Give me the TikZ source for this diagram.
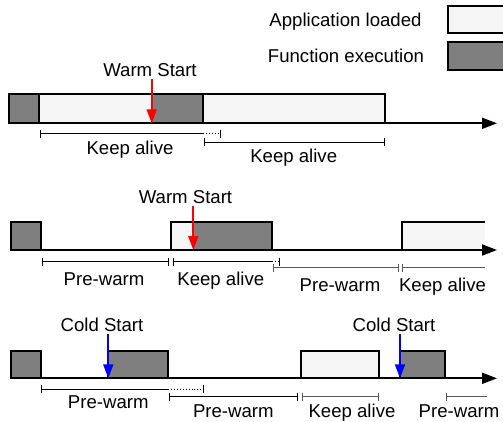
\documentclass[tikz,border=0pt]{standalone}
\usepackage{fontspec}
\setmainfont{Liberation Sans}
\usetikzlibrary{arrows.meta}
\definecolor{lightfill}{HTML}{F5F5F5}
\definecolor{darkfill}{HTML}{7F7F7F}
\definecolor{spangray}{HTML}{5A5A5A}
\begin{document}
\begin{tikzpicture}[x=1pt,y=-1pt,
  font=\fontsize{18.6}{21}\selectfont,
  lbl/.style={anchor=base, inner sep=0pt},
  boxline/.style={line width=1.8pt, draw=black},
  lightbox/.style={fill=lightfill},
  darkbox/.style={fill=darkfill},
  axis/.style={line width=1.8pt, -{Triangle[length=15pt,width=11pt]}},
  warmhit/.style={line width=1.8pt, draw=red, -{Triangle[length=14pt,width=10pt]}},
  coldhit/.style={line width=1.8pt, draw=blue, -{Triangle[length=14pt,width=10pt]}},
  spanboth/.style={line width=0.9pt, {Bar[width=8pt]}-{Bar[width=8pt]}},
  spanleft/.style={line width=0.9pt, {Bar[width=8pt]}-},
  spanright/.style={line width=0.9pt, -{Bar[width=8pt]}},
  spanext/.style={line width=0.9pt, dotted, -{Bar[width=8pt]}},
]
\useasboundingbox (0,0) rectangle (503,421);
\begin{scope}
\clip (0,0) rectangle (503,421);
% ---------- legend ----------
\node[lbl] (lgA) at (345.5,26) {Application loaded};
\node[lbl] (lgF) at (346,62.7) {Function execution};
\draw[boxline,lightbox] (448,5.7) rectangle (515,33.3);
\draw[boxline,darkbox] (448,41.7) rectangle (515,70);

% ---------- row 1 ----------
\fill[darkbox] (9.3,94.3) rectangle (39.3,123.3);
\draw[boxline] (9.3,94.3) rectangle (39.3,123.3);
\fill[lightbox] (39.3,94.3) rectangle (203.3,123.3);
\fill[darkbox] (151.7,94.3) rectangle (203.3,123.3);
\draw[boxline] (39.3,94.3) rectangle (203.3,123.3);
\draw[boxline,lightbox] (203.3,94.3) rectangle (385,123.3);
\coordinate (ax1s) at (9.3,123.3);
\coordinate (ax1e) at (497,123.3);
\draw[axis] (ax1s) -- (ax1e);
\node[lbl] (ws1) at (150,76) {Warm Start};
\coordinate (ws1a) at (151.7,78.5);
\coordinate (ws1b) at (151.7,123.3);
\draw[warmhit] (ws1a) -- (ws1b);
\draw[spanleft] (40,133.7) -- (203,133.7);
\draw[spanext] (203,133.7) -- (220.5,133.7);
\draw[spanboth] (204,142) -- (385,142);
\node[lbl] (ka11) at (130,154) {Keep alive};
\node[lbl] (ka12) at (293.7,162.7) {Keep alive};

% ---------- row 2 ----------
\fill[darkbox] (10.7,221.7) rectangle (40.7,250);
\draw[boxline] (10.7,221.7) rectangle (40.7,250);
\fill[lightbox] (170.7,221.7) rectangle (271.7,250);
\fill[darkbox] (193.3,221.7) rectangle (271.7,250);
\draw[boxline] (170.7,221.7) rectangle (271.7,250);
\fill[lightbox] (401.7,221.7) rectangle (485,250);
\draw[boxline] (401.7,250) -- (401.7,221.7) -- (485,221.7);
\coordinate (ax2s) at (10.7,250);
\coordinate (ax2e) at (497,250);
\draw[axis] (ax2s) -- (ax2e);
\node[lbl] (ws2) at (185.5,203.3) {Warm Start};
\coordinate (ws2a) at (193.3,206);
\coordinate (ws2b) at (193.3,250);
\draw[warmhit] (ws2a) -- (ws2b);
\draw[spanboth] (41.7,261.7) -- (169,261.7);
\draw[spanleft] (173.3,261.7) -- (271.7,261.7);
\draw[spanext] (271.7,261.7) -- (280,261.7);
\draw[spanboth,draw=spangray] (272.7,267.7) -- (399,267.7);
\draw[spanleft,draw=spangray] (402.3,267.7) -- (485,267.7);
\node[lbl] (pw21) at (104,285) {Pre-warm};
\node[lbl] (ka21) at (220.8,285) {Keep alive};
\node[lbl] (pw22) at (340,291.5) {Pre-warm};
\node[lbl] (ka22) at (442.5,291.5) {Keep alive};

% ---------- row 3 ----------
\fill[darkbox] (10.7,350.7) rectangle (40.7,378.3);
\draw[boxline] (10.7,350.7) rectangle (40.7,378.3);
\draw[boxline,darkbox] (108.3,350.7) rectangle (168.3,378.3);
\draw[boxline,lightbox] (301,350.7) rectangle (379.3,378.3);
\draw[boxline,darkbox] (400,350.7) rectangle (445,378.3);
\coordinate (ax3s) at (10.7,378.3);
\coordinate (ax3e) at (497,378.3);
\draw[axis] (ax3s) -- (ax3e);
\node[lbl] (cs1) at (102,331) {Cold Start};
\node[lbl] (cs2) at (394,331) {Cold Start};
\coordinate (cs1a) at (108.3,334);
\coordinate (cs1b) at (108.3,378.3);
\coordinate (cs2a) at (400,334);
\coordinate (cs2b) at (400,378.3);
\draw[coldhit] (cs1a) -- (cs1b);
\draw[coldhit] (cs2a) -- (cs2b);
\draw[spanleft] (40.7,389.3) -- (168.3,389.3);
\draw[spanext] (168.3,389.3) -- (204.3,389.3);
\draw[spanboth] (169,396.7) -- (298,396.7);
\draw[spanboth,draw=spangray] (302,396.7) -- (378.7,396.7);
\draw[spanleft,draw=spangray] (445.7,396.7) -- (487,396.7);
\node[lbl] (pw31) at (108.3,408.3) {Pre-warm};
\node[lbl] (pw32) at (233.3,417.3) {Pre-warm};
\node[lbl] (ka31) at (352,417.3) {Keep alive};
\node[lbl] (pw33) at (459,417.3) {Pre-warm};
\end{scope}
\end{tikzpicture}
\end{document}
